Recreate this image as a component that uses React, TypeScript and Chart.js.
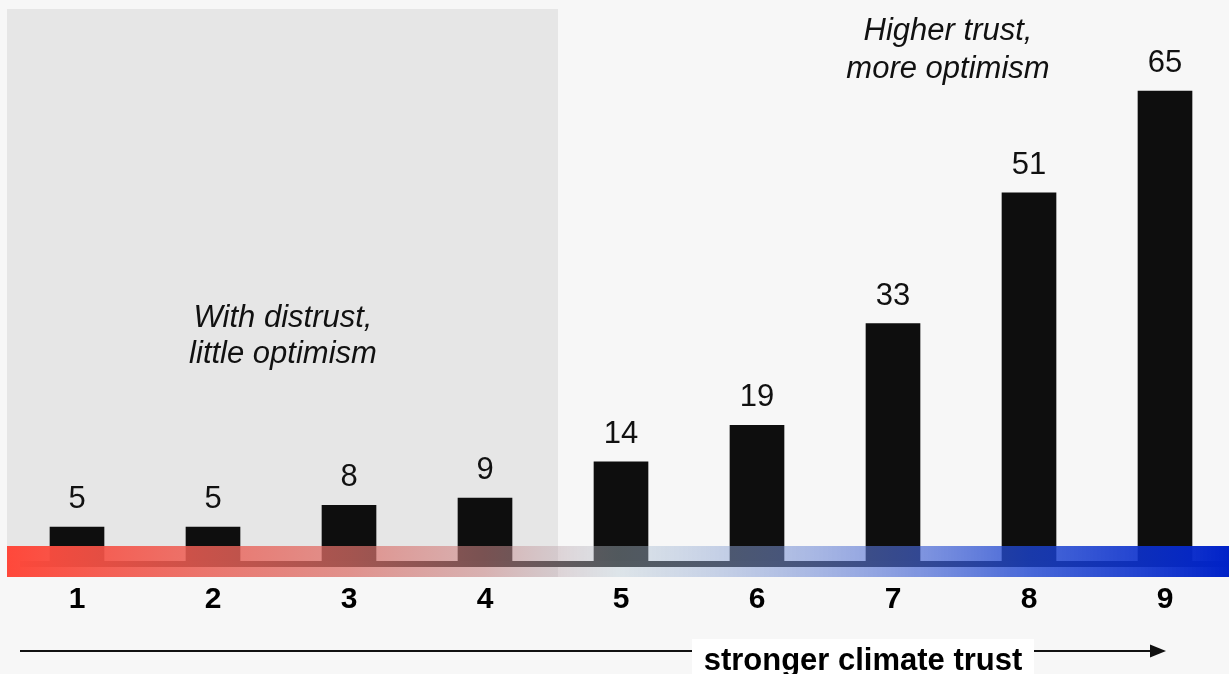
import React, { useEffect, useRef } from "react";
import { Chart, registerables } from "chart.js";

Chart.register(...registerables);

const categories: string[] = ["1", "2", "3", "4", "5", "6", "7", "8", "9"];
const values: number[] = [5, 5, 8, 9, 14, 19, 33, 51, 65];
const leftNote: string[] = ["With distrust,", "little optimism"];
const rightNote: string[] = ["Higher trust,", "more optimism"];
const axisTitle = "stronger climate trust";

const FONT = '"Liberation Sans", Arial, Helvetica, sans-serif';

const decorPlugin = {
  id: "decor",
  beforeDatasetsDraw(chart: any) {
    const ctx = chart.ctx;
    ctx.save();
    // shaded "distrust" region
    ctx.fillStyle = "#e6e6e6";
    ctx.fillRect(7, 9, 558 - 7, 577 - 9);
    ctx.restore();
  },
  afterDatasetsDraw(chart: any) {
    const ctx = chart.ctx;
    const xs = chart.scales.x;
    const ys = chart.scales.y;
    const zero = ys.getPixelForValue(0);
    ctx.save();

    // dark baseline
    ctx.fillStyle = "#111111";
    ctx.fillRect(20, zero - 2.5, 1229 - 20, 6);

    // gradient band
    const bx0 = 7;
    const bx1 = 1229;
    const g = ctx.createLinearGradient(bx0, 0, bx1, 0);
    g.addColorStop(0, "rgba(255,72,58,1)");
    g.addColorStop(0.28, "rgba(222,112,105,0.72)");
    g.addColorStop(0.39, "rgba(205,135,135,0.56)");
    g.addColorStop(0.5, "rgba(182,200,212,0.4)");
    g.addColorStop(0.725, "rgba(78,108,212,0.64)");
    g.addColorStop(0.836, "rgba(28,68,208,0.8)");
    g.addColorStop(1, "rgba(0,34,200,1)");
    ctx.fillStyle = g;
    ctx.fillRect(bx0, 546, bx1 - bx0, 577 - 546);

    // value labels
    const meta = chart.getDatasetMeta(0);
    ctx.fillStyle = "#111111";
    ctx.textAlign = "center";
    ctx.textBaseline = "alphabetic";
    ctx.font = `31px ${FONT}`;
    meta.data.forEach((bar: any, i: number) => {
      ctx.fillText(String(values[i]), bar.x, bar.y - 19);
    });

    // category labels
    ctx.font = `bold 30px ${FONT}`;
    ctx.fillStyle = "#000000";
    categories.forEach((c, i) => {
      ctx.fillText(c, xs.getPixelForValue(i), 608);
    });

    // annotations
    ctx.font = `italic 31px ${FONT}`;
    ctx.fillStyle = "#111111";
    ctx.fillText(leftNote[0], 283, 327);
    ctx.fillText(leftNote[1], 283, 363);
    ctx.fillText(rightNote[0], 948, 40);
    ctx.fillText(rightNote[1], 948, 78);

    // arrow
    ctx.strokeStyle = "#111111";
    ctx.lineWidth = 2;
    ctx.beginPath();
    ctx.moveTo(20, 651);
    ctx.lineTo(1152, 651);
    ctx.stroke();
    ctx.fillStyle = "#111111";
    ctx.beginPath();
    ctx.moveTo(1166, 651);
    ctx.lineTo(1150, 644.5);
    ctx.lineTo(1150, 657.5);
    ctx.closePath();
    ctx.fill();

    // axis title box
    ctx.fillStyle = "#ffffff";
    ctx.fillRect(692, 639, 1034 - 692, 40);
    ctx.fillStyle = "#000000";
    ctx.font = `bold 31px ${FONT}`;
    ctx.fillText(axisTitle, 863, 670);

    ctx.restore();
  },
};

export default function App() {
  const ref = useRef<HTMLCanvasElement | null>(null);
  useEffect(() => {
    document.body.style.margin = "0";
    document.body.style.overflow = "hidden";
    const canvas = ref.current;
    if (!canvas) return;
    const chart = new Chart(canvas, {
      type: "bar",
      data: {
        labels: categories,
        datasets: [
          {
            data: values,
            backgroundColor: "#0e0e0e",
            borderWidth: 0,
            barThickness: 54,
          },
        ],
      },
      options: {
        responsive: false,
        animation: false,
        devicePixelRatio: 1,
        layout: { padding: { left: 9, right: 0, top: 18.5, bottom: 110.5 } },
        scales: {
          x: { display: false },
          y: { display: false, min: 0, max: 75 },
        },
        plugins: {
          legend: { display: false },
          tooltip: { enabled: false },
        },
      },
      plugins: [decorPlugin],
    });
    return () => chart.destroy();
  }, []);
  return (
    <div
      style={{
        position: "fixed",
        left: 0,
        top: 0,
        width: 1229,
        height: 674,
        overflow: "hidden",
        background: "#f7f7f7",
      }}
    >
      <canvas
        ref={ref}
        width={1233}
        height={674}
        style={{ display: "block", width: 1233, height: 674 }}
      />
    </div>
  );
}
